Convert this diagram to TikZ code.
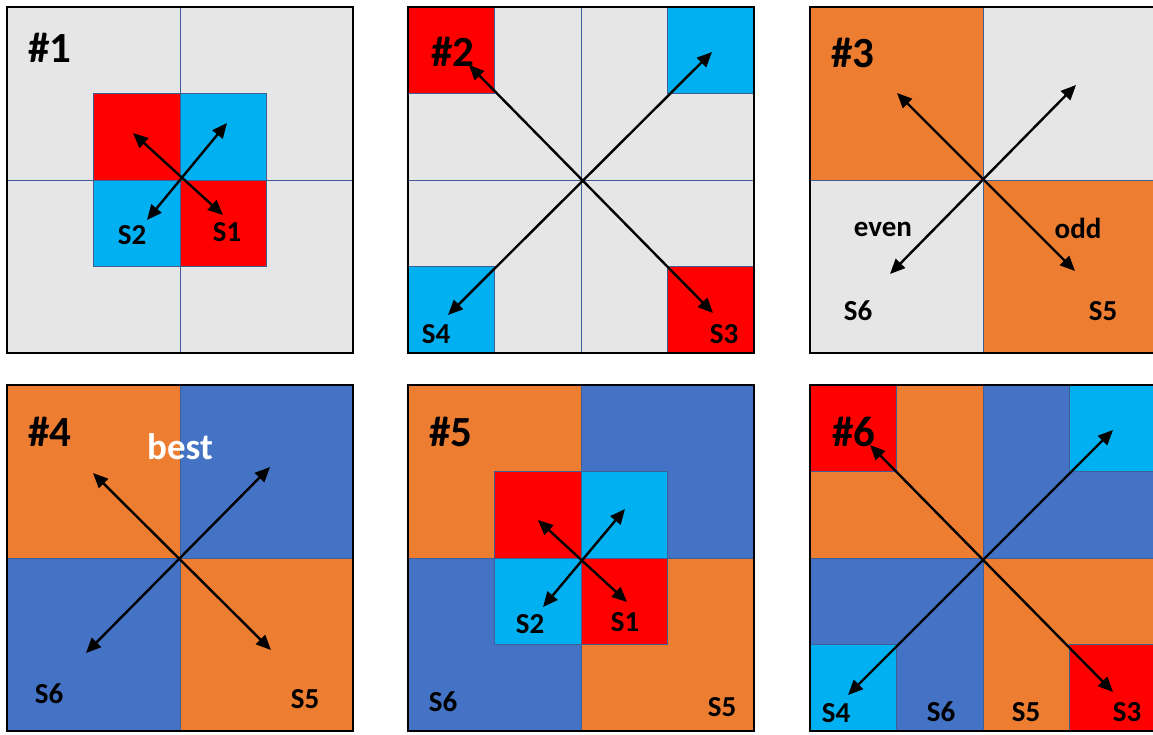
\documentclass[tikz,border=0pt]{standalone}
\usepackage{fontspec}
\setmainfont{Carlito}
\usetikzlibrary{arrows.meta}
\definecolor{cgray}{HTML}{E7E6E6}
\definecolor{corange}{HTML}{ED7D31}
\definecolor{cblue}{HTML}{4472C4}
\definecolor{ccyan}{HTML}{00B0F0}
\definecolor{cred}{HTML}{FF0000}
\definecolor{cline}{HTML}{3F5E96}
\newcommand\PanQuads[2]{%
  \fill[#1] (0,0) rectangle (173,173);
  \fill[#2] (173,0) rectangle (346,173);
  \fill[#2] (0,173) rectangle (173,346);
  \fill[#1] (173,173) rectangle (346,346);}
\newcommand\PanCross{%
  \draw[thinline] (173,0) -- (173,346);
  \draw[thinline] (0,173) -- (346,173);}
\newcommand\PanCenter{%
  \fill[cred] (86.5,86.5) rectangle (173,173);
  \fill[ccyan] (173,86.5) rectangle (259.5,173);
  \fill[ccyan] (86.5,173) rectangle (173,259.5);
  \fill[cred] (173,173) rectangle (259.5,259.5);
  \draw[thinline] (86.5,86.5) rectangle (259.5,259.5);
  \draw[thinline] (173,86.5) -- (173,259.5);
  \draw[thinline] (86.5,173) -- (259.5,173);}
\newcommand\PanCorners{%
  \fill[cred] (0,0) rectangle (86.5,86.5);
  \fill[ccyan] (259.5,0) rectangle (346,86.5);
  \fill[ccyan] (0,259.5) rectangle (86.5,346);
  \fill[cred] (259.5,259.5) rectangle (346,346);
  \draw[thinline] (0,86.5) -- (86.5,86.5) -- (86.5,0);
  \draw[thinline] (259.5,0) -- (259.5,86.5) -- (346,86.5);
  \draw[thinline] (0,259.5) -- (86.5,259.5) -- (86.5,346);
  \draw[thinline] (259.5,346) -- (259.5,259.5) -- (346,259.5);}
\tikzset{
  thinline/.style={draw=cline, line width=0.9pt},
  frame/.style={draw=black, line width=2.6pt},
  dbl/.style={{Triangle[length=15pt,width=13pt]}-{Triangle[length=15pt,width=13pt]}, line width=2.4pt, black},
  lab/.style={inner sep=0pt, font=\bfseries\fontsize{29}{32}\selectfont},
  numlab/.style={inner sep=0pt, font=\bfseries\fontsize{43}{47}\selectfont},
  bestlab/.style={inner sep=0pt, text=white, font=\bfseries\fontsize{37}{40}\selectfont}
}
\begin{document}
\begin{tikzpicture}[x=1pt,y=-1pt]
\useasboundingbox (0,0) rectangle (1153,734);
\fill[white] (0,0) rectangle (1153,734);
% Panel 1
\begin{scope}[shift={(7,7)}]
  \fill[cgray] (0,0) rectangle (346,346);
  \PanCross
  \PanCenter
  \draw[frame] (0,0) rectangle (346,346);
  \coordinate (a1nw) at (126,126); \coordinate (a1se) at (216,208);
  \coordinate (a1sw) at (140,213); \coordinate (a1ne) at (220,116);
  \draw[dbl] (a1nw) -- (a1se);
  \draw[dbl] (a1sw) -- (a1ne);
  \node[numlab] (t1) at (43,41) {\#1};
  \node[lab] (s1b) at (125,228) {S2};
  \node[lab] (s1a) at (220,225) {S1};
\end{scope}
% Panel 2
\begin{scope}[shift={(408,7)}]
  \fill[cgray] (0,0) rectangle (346,346);
  \PanCorners
  \PanCross
  \draw[frame] (0,0) rectangle (346,346);
  \coordinate (a2nw) at (61,58); \coordinate (a2se) at (305,306);
  \coordinate (a2sw) at (40,308); \coordinate (a2ne) at (304,45);
  \draw[dbl] (a2nw) -- (a2se);
  \draw[dbl] (a2sw) -- (a2ne);
  \node[numlab] (t2) at (45,45) {\#2};
  \node[lab] (s2a) at (28,327) {S4};
  \node[lab] (s2b) at (316,327) {S3};
\end{scope}
% Panel 3
\begin{scope}[shift={(810,7)}]
  \PanQuads{corange}{cgray}
  \PanCross
  \draw[frame] (0,0) rectangle (346,346);
  \coordinate (a3nw) at (87,86); \coordinate (a3se) at (265,264);
  \coordinate (a3sw) at (80,267); \coordinate (a3ne) at (266,78);
  \draw[dbl] (a3nw) -- (a3se);
  \draw[dbl] (a3sw) -- (a3ne);
  \node[numlab] (t3) at (43,46) {\#3};
  \node[lab] (e3) at (73,222) {even};
  \node[lab] (o3) at (268,221) {odd};
  \node[lab] (s3a) at (48,304) {S6};
  \node[lab] (s3b) at (293,304) {S5};
\end{scope}
% Panel 4
\begin{scope}[shift={(7,385)}]
  \PanQuads{corange}{cblue}
  \PanCross
  \draw[frame] (0,0) rectangle (346,346);
  \coordinate (a4nw) at (86,88); \coordinate (a4se) at (264,265);
  \coordinate (a4sw) at (79,268); \coordinate (a4ne) at (263,82);
  \draw[dbl] (a4nw) -- (a4se);
  \draw[dbl] (a4sw) -- (a4ne);
  \node[numlab] (t4) at (43,47) {\#4};
  \node[bestlab] (b4) at (173,62) {best};
  \node[lab] (s4a) at (42,309) {S6};
  \node[lab] (s4b) at (298,314) {S5};
\end{scope}
% Panel 5
\begin{scope}[shift={(408,385)}]
  \PanQuads{corange}{cblue}
  \PanCross
  \PanCenter
  \draw[frame] (0,0) rectangle (346,346);
  \coordinate (a5nw) at (130,135); \coordinate (a5se) at (219,217);
  \coordinate (a5sw) at (135,222); \coordinate (a5ne) at (217,124);
  \draw[dbl] (a5nw) -- (a5se);
  \draw[dbl] (a5sw) -- (a5ne);
  \node[numlab] (t5) at (43,47) {\#5};
  \node[lab] (s5b) at (122,239) {S2};
  \node[lab] (s5a) at (217,237) {S1};
  \node[lab] (s5c) at (35,317) {S6};
  \node[lab] (s5d) at (314,322) {S5};
\end{scope}
% Panel 6
\begin{scope}[shift={(810,385)}]
  \PanQuads{corange}{cblue}
  \PanCorners
  \PanCross
  \draw[frame] (0,0) rectangle (346,346);
  \coordinate (a6nw) at (60,60); \coordinate (a6se) at (303,307);
  \coordinate (a6sw) at (38,310); \coordinate (a6ne) at (303,45);
  \draw[dbl] (a6nw) -- (a6se);
  \draw[dbl] (a6sw) -- (a6ne);
  \node[numlab] (t6) at (44,47) {\#6};
  \node[lab] (s6a) at (26,328) {S4};
  \node[lab] (s6b) at (131,327) {S6};
  \node[lab] (s6c) at (216,327) {S5};
  \node[lab] (s6d) at (317,327) {S3};
\end{scope}
\end{tikzpicture}
\end{document}
